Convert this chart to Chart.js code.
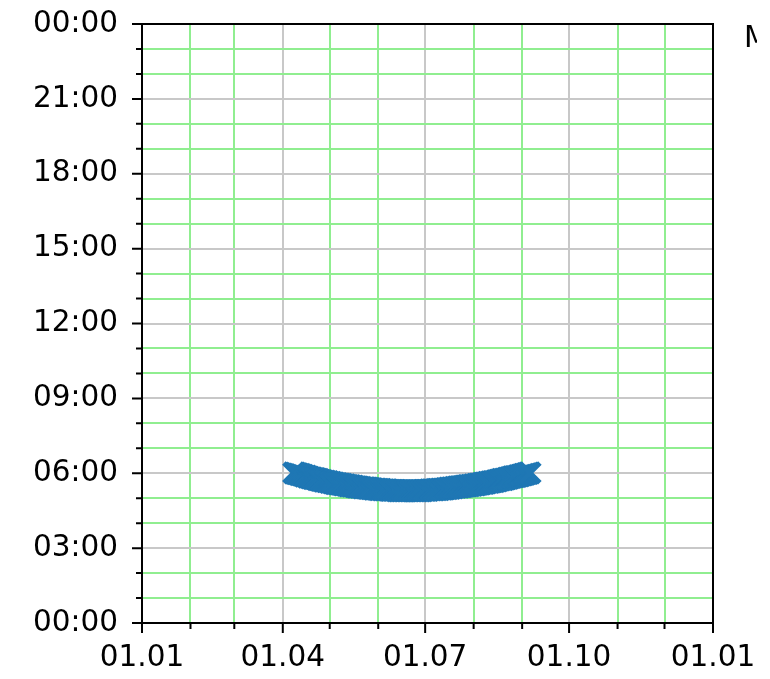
<!DOCTYPE html>
<html>
<head>
<meta charset="utf-8">
<script src="https://cdn.jsdelivr.net/npm/chart.js@4.4.1/dist/chart.umd.min.js"></script>
<style>
    body { margin: 0; background: #fff; }
    #wrap { width: 770px; height: 679px; }
</style>
</head>
<body>
<div id="wrap"><canvas id="grafico"></canvas></div>
<script>
// dias del año (0 = 1 de enero) donde empieza cada mes
const inicioMeses = [0, 31, 59, 90, 120, 151, 181, 212, 243, 273, 304, 334, 365];
const diasMayores = [0, 90, 181, 273, 365];
const etiquetasX = ['01.01', '01.04', '01.07', '01.10', '01.01'];

// minutos desde medianoche
const minutosMenores = [0, 60, 120, 180, 240, 300, 360, 420, 480, 540, 600, 660, 720,
    780, 840, 900, 960, 1020, 1080, 1140, 1200, 1260, 1320, 1380, 1440];
const minutosMayores = [0, 180, 360, 540, 720, 900, 1080, 1260, 1440];
const etiquetasY = ['00:00', '03:00', '06:00', '09:00', '12:00', '15:00', '18:00', '21:00', '00:00'];

// un valor por dia, desde el dia 97 (7 de abril)
const primerDia = 97;
const horaMinutos = [
    361, 360, 359, 358, 357, 356, 355, 353, 353, 351,
    350, 349, 348, 347, 347, 345, 345, 343, 343, 341,
    341, 340, 340, 338, 338, 337, 336, 335, 335, 334,
    334, 333, 332, 332, 331, 330, 330, 329, 329, 328,
    327, 327, 326, 326, 325, 325, 325, 324, 324, 323,
    323, 322, 322, 322, 321, 321, 321, 320, 320, 320,
    320, 319, 319, 319, 319, 319, 318, 318, 318, 318,
    318, 318, 318, 318, 318, 318,
    318, 318, 318, 318, 318, 318, 318, 319, 319, 319,
    319, 320, 320, 320, 320, 321, 321, 321, 322, 322,
    322, 323, 323, 324, 324, 325, 325, 326, 326, 327,
    327, 328, 328, 329, 329, 330, 330, 331, 331, 332,
    332, 333, 334, 334, 335, 336, 336, 337, 338, 338,
    339, 340, 340, 341, 342, 343, 344, 345, 345, 346,
    347, 348, 349, 350, 351, 352, 352, 353, 354, 355,
    356, 357, 358, 359, 360, 361
];

const puntos = horaMinutos.map((m, i) => ({ x: primerDia + i, y: m }));

const fuente = { family: 'DejaVu Sans', size: 29.5 };
const gris = '#c8c8c8';
const verde = '#90ee90';

const marcasYMarco = {
    id: 'marcasYMarco',
    afterDraw(chart) {
        const ctx = chart.ctx;
        const a = chart.chartArea;
        const sx = chart.scales.x;
        const sy = chart.scales.y;
        ctx.save();
        ctx.strokeStyle = '#000';
        ctx.lineWidth = 2;
        ctx.strokeRect(a.left, a.top, a.right - a.left, a.bottom - a.top);
        ctx.beginPath();
        inicioMeses.forEach(d => {
            const px = sx.getPixelForValue(d);
            const largo = diasMayores.includes(d) ? 10 : 6;
            ctx.moveTo(px, a.bottom);
            ctx.lineTo(px, a.bottom + largo);
        });
        minutosMenores.forEach(m => {
            const py = sy.getPixelForValue(m);
            const largo = minutosMayores.includes(m) ? 10 : 6;
            ctx.moveTo(a.left, py);
            ctx.lineTo(a.left - largo, py);
        });
        ctx.stroke();

        // texto cortado en el borde derecho
        ctx.beginPath();
        ctx.rect(720, 0, 37, 80);
        ctx.clip();
        ctx.fillStyle = '#000';
        ctx.font = '29.5px "DejaVu Sans"';
        ctx.textBaseline = 'alphabetic';
        ctx.textAlign = 'left';
        ctx.fillText('M', 744, 47);
        ctx.restore();
    }
};

new Chart(document.getElementById('grafico'), {
    type: 'scatter',
    data: {
        datasets: [{
            data: puntos,
            pointStyle: 'crossRot',
            pointRadius: 14,
            pointHoverRadius: 14,
            borderWidth: 5,
            borderColor: '#1f77b4',
            backgroundColor: '#1f77b4'
        }]
    },
    options: {
        responsive: true,
        maintainAspectRatio: false,
        animation: false,
        layout: { padding: { left: 0, top: 24, right: 57, bottom: 0 } },
        plugins: {
            legend: { display: false },
            tooltip: { enabled: false }
        },
        scales: {
            x: {
                type: 'linear',
                min: 0,
                max: 365,
                afterBuildTicks: s => { s.ticks = inicioMeses.map(v => ({ value: v })); },
                afterFit: s => { s.height = 56; s.paddingLeft = 0; s.paddingRight = 0; },
                grid: {
                    drawTicks: false,
                    lineWidth: 2,
                    color: c => (c.tick && diasMayores.includes(c.tick.value)) ? gris : verde
                },
                border: { display: false },
                ticks: {
                    autoSkip: false,
                    maxRotation: 0,
                    padding: 18,
                    color: '#000',
                    font: fuente,
                    callback: v => {
                        const i = diasMayores.indexOf(v);
                        return i >= 0 ? etiquetasX[i] : '';
                    }
                }
            },
            y: {
                type: 'linear',
                min: 0,
                max: 1440,
                afterBuildTicks: s => { s.ticks = minutosMenores.map(v => ({ value: v })); },
                afterFit: s => { s.width = 142; s.paddingTop = 0; s.paddingBottom = 0; },
                grid: {
                    drawTicks: false,
                    lineWidth: 2,
                    color: c => (c.tick && minutosMayores.includes(c.tick.value)) ? gris : verde
                },
                border: { display: false },
                ticks: {
                    autoSkip: false,
                    padding: 24,
                    color: '#000',
                    font: fuente,
                    callback: v => {
                        const i = minutosMayores.indexOf(v);
                        return i >= 0 ? etiquetasY[i] : '';
                    }
                }
            }
        }
    },
    plugins: [marcasYMarco]
});
</script>
</body>
</html>
